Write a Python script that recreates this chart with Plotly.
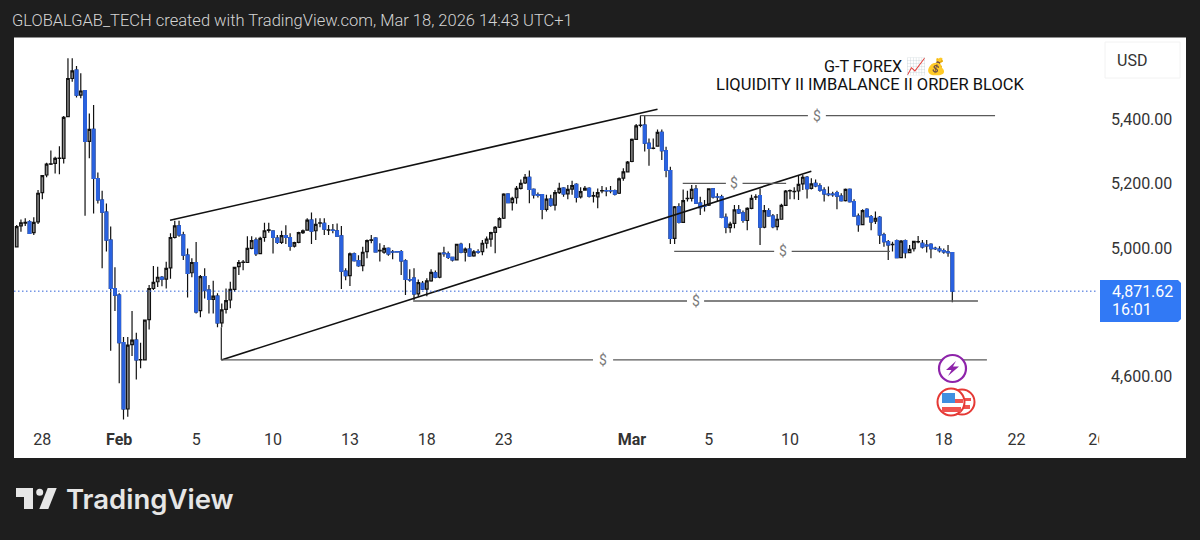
import plotly.graph_objects as go

opens = [5010,5075,5084,5088,5054,5088,5179,5234,5268,5270,
5286,5286,5416,5535,5561,5483,5497,5339,5376,5223,
5156,5118,5031,4880,4859,4711,4504,4705,4719,4657,
4657,4783,4880,4901,4915,4909,4944,5039,5075,5047,
4984,4929,4961,4811,4917,4875,4846,4856,4773,4815,
4844,4877,4948,4961,4961,5005,5031,4989,5039,5061,
5059,5037,5024,5045,5039,5012,5024,5054,5062,5093,
5060,5084,5083,5062,5062,5060,5044,4934,4920,4988,
4967,4951,4995,5030,5037,4997,4993,5005,4994,4995,
4995,4966,4908,4912,4863,4896,4878,4904,4929,4915,
4990,4988,4977,4969,5018,4993,5003,4982,4995,4995,
5021,5034,5055,5071,5099,5174,5148,5163,5192,5209,
5227,5189,5172,5173,5127,5159,5140,5179,5193,5175,
5190,5205,5166,5187,5192,5168,5166,5184,5185,5185,
5185,5177,5224,5244,5276,5345,5389,5390,5333,5317,
5324,5367,5310,5248,5036,5135,5086,5160,5161,5190,
5146,5138,5140,5191,5166,5166,5102,5070,5083,5125,
5116,5092,5130,5165,5170,5071,5123,5106,5073,5096,
5139,5184,5182,5184,5206,5227,5192,5208,5200,5187,
5174,5174,5179,5168,5154,5189,5151,5106,5079,5127,
5104,5090,5102,5047,5026,5017,5029,4976,5029,4992,
5004,5025,5021,5015,5018,5005,5003,4998,4994,4992]
highs = [5078,5095,5099,5093,5102,5187,5234,5272,5310,5291,
5324,5418,5598,5598,5574,5551,5499,5426,5452,5242,
5185,5145,5073,4946,4865,4729,4729,4810,4742,4711,
4783,4891,4950,4948,4919,4963,5052,5091,5091,5057,
5005,4974,5025,4922,4943,4891,4904,4865,4833,4880,
4901,4948,4969,4969,5043,5043,5039,5041,5085,5085,
5062,5047,5060,5077,5052,5026,5057,5064,5099,5117,
5099,5099,5099,5078,5081,5083,5075,4943,4992,4992,
4984,5010,5033,5047,5040,5021,5016,5008,5000,4997,
5000,4971,4940,4943,4908,4903,4912,4940,4936,4992,
5010,4995,4979,5019,5023,5008,5021,5000,5002,5031,
5042,5057,5075,5102,5177,5177,5166,5200,5220,5237,
5248,5192,5179,5175,5172,5172,5187,5210,5196,5203,
5216,5208,5196,5200,5196,5182,5192,5200,5196,5200,
5189,5226,5255,5278,5348,5393,5419,5419,5348,5348,
5376,5376,5322,5260,5137,5146,5189,5185,5203,5203,
5166,5156,5193,5193,5177,5172,5114,5088,5140,5140,
5123,5133,5172,5174,5192,5140,5130,5112,5112,5144,
5187,5189,5196,5231,5234,5231,5224,5220,5208,5196,
5198,5182,5185,5177,5192,5192,5158,5114,5127,5130,
5109,5120,5106,5054,5031,5026,5033,5031,5033,5016,
5029,5044,5031,5031,5021,5010,5012,5005,5016,4994]
lows = [5008,5057,5075,5050,5047,5081,5158,5227,5265,5239,
5236,5270,5414,5525,5476,5473,5107,5286,5114,5145,
4943,4995,4686,4810,4584,4471,4480,4669,4596,4631,
4655,4752,4875,4885,4887,4880,4910,5036,5041,4969,
4852,4915,4802,4790,4849,4802,4802,4759,4759,4802,
4818,4870,4922,4937,4960,5002,4981,4987,5026,5054,
4989,5019,5019,5019,4998,5008,5021,5050,5060,5019,
5031,5071,5047,5047,5052,5041,4878,4906,4888,4964,
4948,4934,4974,5021,4992,4964,4988,4982,4971,4992,
4922,4860,4901,4844,4854,4875,4856,4901,4912,4912,
4979,4972,4964,4967,4990,4964,4979,4979,4988,4984,
5005,5010,4990,5069,5097,5146,5123,5144,5189,5206,
5146,5161,5164,5096,5120,5135,5123,5175,5166,5158,
5172,5148,5161,5185,5164,5148,5130,5177,5168,5177,
5170,5175,5216,5242,5274,5343,5383,5307,5263,5314,
5322,5281,5227,5019,5019,5083,5085,5151,5151,5144,
5109,5120,5137,5161,5151,5099,5052,5054,5068,5112,
5085,5062,5127,5156,5016,5068,5104,5068,5062,5094,
5137,5158,5158,5156,5187,5161,5189,5196,5182,5151,
5168,5166,5127,5151,5151,5148,5104,5057,5077,5102,
5062,5081,5019,5010,4969,4995,4974,4974,4974,4990,
4995,5021,5005,4992,4974,5000,4992,4988,4979,4837]
closes = [5073,5085,5086,5052,5086,5177,5232,5268,5269,5286,
5287,5414,5535,5559,5483,5496,5339,5376,5223,5156,
5118,5031,4880,4859,4711,4504,4703,4719,4657,4658,
4781,4880,4899,4915,4909,4943,5039,5075,5047,4984,
4927,4961,4807,4917,4875,4846,4856,4773,4813,4842,
4877,4946,4961,4962,5005,5029,4989,5036,5060,5063,
5039,5024,5045,5039,5012,5023,5054,5060,5093,5059,
5080,5085,5065,5063,5061,5043,4934,4920,4988,4967,
4951,4993,5029,5032,4994,4999,5005,4988,4993,4994,
4966,4908,4907,4863,4898,4878,4904,4930,4915,4990,
4989,4977,4969,5018,4993,5003,4982,4994,4993,5021,
5034,5054,5071,5098,5174,5148,5161,5192,5208,5227,
5189,5172,5170,5127,5159,5140,5179,5192,5175,5189,
5201,5164,5182,5192,5168,5170,5179,5185,5184,5184,
5174,5222,5244,5274,5345,5387,5390,5333,5317,5318,
5367,5310,5248,5036,5135,5086,5154,5161,5189,5146,
5132,5137,5191,5166,5165,5102,5071,5081,5125,5116,
5092,5130,5161,5166,5071,5123,5106,5073,5096,5139,
5184,5185,5183,5205,5227,5191,5206,5200,5187,5175,
5173,5173,5168,5154,5189,5151,5106,5079,5123,5104,
5088,5099,5047,5026,5016,5018,4976,5028,4992,5002,
5027,5026,5010,5013,5004,5004,4998,4994,4992,4871.62]
assert len(opens) == len(highs) == len(lows) == len(closes) == 220

x_tick_vals = [6, 24, 42, 60, 78, 96, 114, 144, 162, 181, 199, 217, 234, 252.9]
x_tick_text = ["28", "<b>Feb</b>", "5", "10", "13", "18", "23", "<b>Mar</b>", "5", "10", "13", "18", "22", "26"]
y_tick_vals = [5400, 5200, 5000, 4600]
y_tick_text = ["5,400.00", "5,200.00", "5,000.00", "4,600.00"]
last_price = 4871.62

upper_x, upper_y = [35.9, 150.0], [5092.6, 5439]
lower_x, lower_y = [47.9, 186.0], [4657, 5246]
anchor_x, anchor_y = [47.9, 47.9], [4759, 4657]
levels = [
    (5419, 145.9, 185.2, 189.4, 229.0),
    (5208, 155.9, 166.0, 169.9, 180.1),
    (4996, 153.9, 177.3, 181.4, 204.4),
    (4841, 92.8, 156.9, 160.9, 225.0),
    (4657, 47.9, 134.9, 139.6, 227.1),
]

W, H = 1200, 540
L, R, T, B = 14, 1098, 38, 428
def fx(p): return (p - L) / (R - L)
def fy(p): return (B - p) / (B - T)
FONT = "Roboto"
BLUE = "#2a62e0"

fig = go.Figure()
idx = list(range(len(opens)))
fig.add_trace(go.Candlestick(x=idx, open=opens, high=highs, low=lows, close=closes,
    increasing=dict(line=dict(color="#111111", width=1.2), fillcolor="#8c8c8c"),
    decreasing=dict(line=dict(color="#111111", width=1.2), fillcolor=BLUE),
    whiskerwidth=0, showlegend=False, hoverinfo="skip"))
dn = [i for i in idx if closes[i] < opens[i]]
fig.add_trace(go.Candlestick(x=dn, open=[opens[i] for i in dn], high=[opens[i] for i in dn],
    low=[closes[i] for i in dn], close=[closes[i] for i in dn],
    increasing=dict(line=dict(color=BLUE, width=1.2), fillcolor=BLUE),
    decreasing=dict(line=dict(color=BLUE, width=1.2), fillcolor=BLUE),
    whiskerwidth=0, showlegend=False, hoverinfo="skip"))

for xs, ys in [(upper_x, upper_y), (lower_x, lower_y)]:
    fig.add_trace(go.Scatter(x=xs, y=ys, mode="lines", line=dict(color="#111111", width=1.6),
                             showlegend=False, hoverinfo="skip"))
fig.add_trace(go.Scatter(x=anchor_x, y=anchor_y, mode="lines", line=dict(color="#333333", width=1.3),
                         showlegend=False, hoverinfo="skip"))
ann = []
for y, a, b, c, d in levels:
    for xs in ([a, b], [c, d]):
        fig.add_trace(go.Scatter(x=xs, y=[y, y], mode="lines", line=dict(color="#5a5a5a", width=1.3),
                                 showlegend=False, hoverinfo="skip"))
    ann.append(dict(x=(b + c) / 2, y=y, xref="x", yref="y", text="$", showarrow=False,
                    font=dict(family=FONT, size=14, color="#7a7a7a")))

def t(px_, py_, text, size, color, anchor="left", weight=None, family=FONT):
    f = dict(family=family, size=size, color=color)
    if weight: f["weight"] = weight
    return dict(x=fx(px_), y=fy(py_), xref="paper", yref="paper", text=text, showarrow=False,
                xanchor=anchor, yanchor="middle", font=f)

ann += [
    t(10, 21, "GLOBALGAB_TECH created with TradingView.com, Mar 18, 2026 14:43 UTC+1", 16.5, "#d4d4d4", weight=300),
    t(885, 67, "G-T FOREX 📈💰", 16.2, "#111111", "center"),
    t(870.5, 84, "LIQUIDITY II IMBALANCE II ORDER BLOCK", 16.5, "#111111", "center"),
    t(1115, 60, "USD", 16, "#333333"),
    t(1110, 291, "4,871.62", 16, "#ffffff"),
    t(1110, 309, "16:01", 16, "#ffffff"),
    t(64, 499, "TradingView", 27.5, "#e6e6e6", weight=600, family="Inter"),
]

def rect(x0, y0, x1, y1, fill, line=None, lw=0, layer="below"):
    return dict(type="rect", xref="paper", yref="paper", x0=fx(x0), x1=fx(x1), y0=fy(y0), y1=fy(y1),
                fillcolor=fill, line=dict(color=line or fill, width=lw), layer=layer)
def circ(cx, cy, r, fill, line, lw):
    return dict(type="circle", xref="paper", yref="paper", x0=fx(cx - r), x1=fx(cx + r), y0=fy(cy - r), y1=fy(cy + r),
                fillcolor=fill, line=dict(color=line, width=lw), layer="above")
def poly(pts, fill):
    d = "M " + " L ".join(f"{fx(a):.5f},{fy(b):.5f}" for a, b in pts) + " Z"
    return dict(type="path", xref="paper", yref="paper", path=d, fillcolor=fill, line=dict(width=0), layer="above")

shapes = [
    rect(14, 37.5, 1186, 458, "#ffffff"),
    dict(type="line", xref="paper", yref="y", x0=0, x1=1, y0=last_price, y1=last_price,
         line=dict(color="#2f62d8", width=1, dash="1.5px,2.5px"), layer="above"),
    poly([(1100, 280), (1178, 280), (1181, 283), (1181, 319), (1178, 322), (1100, 322)], "#3179f5"),
    rect(1105, 42, 1180, 78, "#ffffff", "#f2f2f2", 1),
    # purple event marker
    circ(952.5, 368.5, 13.5, "#ffffff", "#8e24aa", 2.2),
    poly([(956, 361), (946, 370), (951.5, 370), (948, 376), (959, 366.5), (953, 366.5)], "#8e24aa"),
    # two flag events
    circ(962, 402, 12.5, "#ffffff", "#e53935", 2),
    rect(963, 398, 971, 401, "#ef5350", layer="above"),
    rect(963, 405, 970, 409, "#ef5350", layer="above"),
    circ(951, 402, 13.5, "#ffffff", "#e53935", 2),
    rect(955, 399, 963, 403, "#ef5350", layer="above"),
    rect(942, 407, 961, 412, "#ef5350", layer="above"),
    rect(942, 393, 955, 403, "#3f8fe0", layer="above"),
    # logo mark
    poly([(16, 488), (33, 488), (33, 509), (24, 509), (24, 497), (16, 497)], "#e6e6e6"),
    circ(39.7, 492.3, 3.5, "#e6e6e6", "#e6e6e6", 0),
    poly([(47.7, 488), (56.7, 488), (48.3, 509), (39.3, 509)], "#e6e6e6"),
]

fig.update_layout(
    width=W, height=H, margin=dict(l=L, r=W - R, t=T, b=H - B, autoexpand=False),
    paper_bgcolor="#1e1e1e", plot_bgcolor="#ffffff", showlegend=False,
    boxmode="overlay", boxgap=0.12, annotations=ann, shapes=shapes,
    xaxis=dict(range=[-0.63, 253.1], rangeslider=dict(visible=False), showgrid=False, zeroline=False, showline=False,
               tickmode="array", tickvals=x_tick_vals, ticktext=x_tick_text, ticks="", ticklabelstandoff=0,
               tickfont=dict(family=FONT, size=16, color="#333333"), tickangle=0),
    yaxis=dict(range=[4444.8, 5661.3], side="right", showgrid=False, zeroline=False, showline=False,
               tickmode="array", tickvals=y_tick_vals, ticktext=y_tick_text, ticks="", ticklabelstandoff=12,
               ticklabelshift=-2,
               tickfont=dict(family=FONT, size=16, color="#333333")),
)
# the last time label runs under the price scale and is cut off there, as in the reference
clip_last_label = """
document.body.style.margin='0';document.body.style.background='#1e1e1e';
var labels=document.querySelectorAll('.xtick text');
if(labels.length){labels[labels.length-1].style.clipPath='inset(-5px 7px -5px -5px)';}
"""
fig.write_html("out.html", config={"displayModeBar": False}, post_script=clip_last_label)
